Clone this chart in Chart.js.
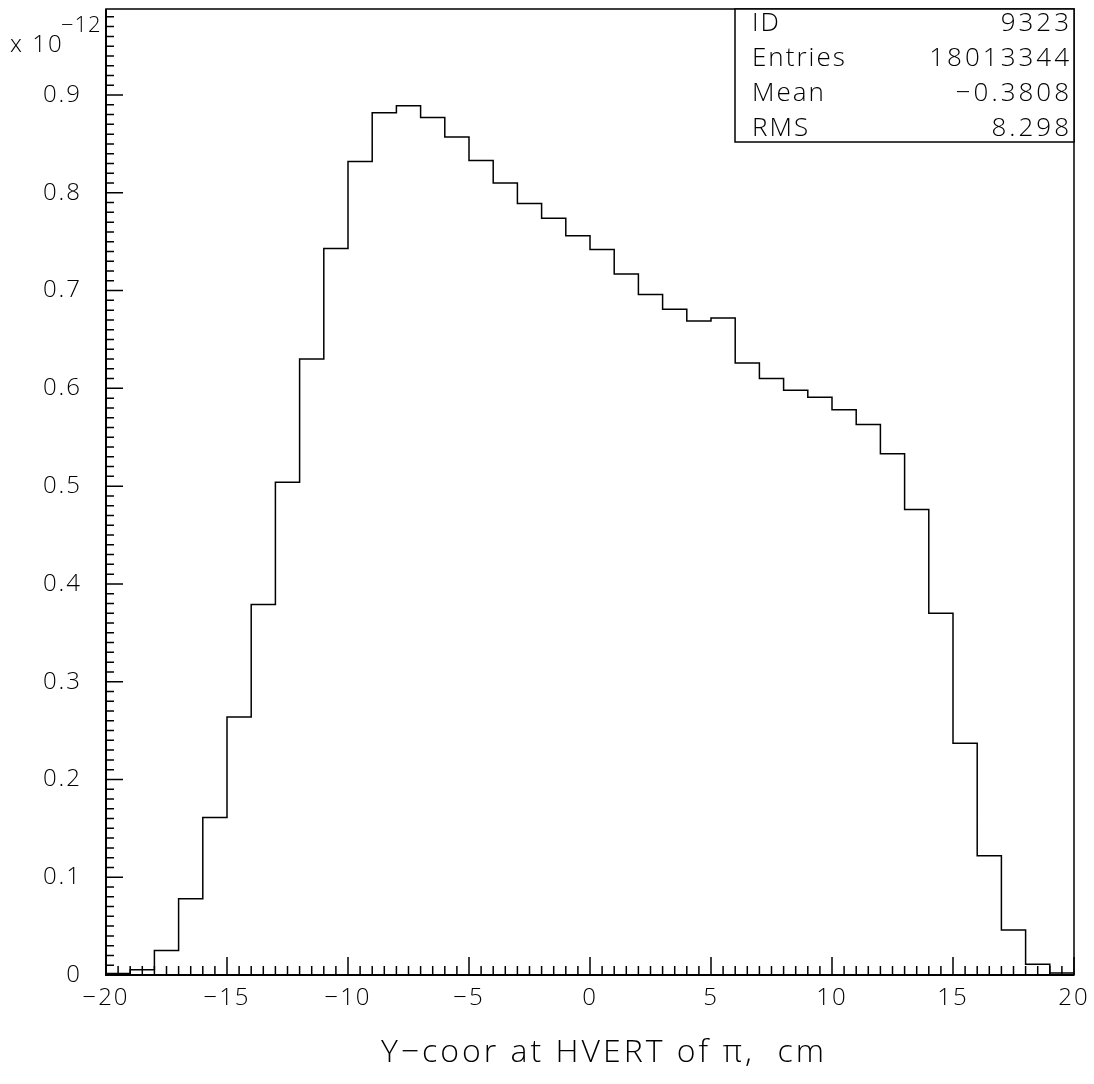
<!DOCTYPE html>
<html>
<head>
<meta charset="utf-8">
<script src="https://cdn.jsdelivr.net/npm/chart.js@4.4.1/dist/chart.umd.min.js"></script>
<style>
  html, body { margin: 0; padding: 0; background: #fff; }
  #wrap { width: 1094px; height: 1084px; }
</style>
</head>
<body>
<div id="wrap"><canvas id="histo"></canvas></div>
<script>
// histogram bins: lower edge of each 1 cm bin
const binLow = [-20, -19, -18, -17, -16, -15, -14, -13, -12, -11,
                -10, -9, -8, -7, -6, -5, -4, -3, -2, -1,
                0, 1, 2, 3, 4, 5, 6, 7, 8, 9,
                10, 11, 12, 13, 14, 15, 16, 17, 18, 19];
const binHigh = 20;

// contents, in units of 1e-12
const counts = [0.0015, 0.0053, 0.025, 0.078, 0.161, 0.264, 0.379, 0.504, 0.630, 0.743,
                0.832, 0.882, 0.889, 0.877, 0.857, 0.833, 0.810, 0.789, 0.774, 0.756,
                0.742, 0.717, 0.696, 0.681, 0.669, 0.672, 0.626, 0.610, 0.598, 0.591,
                0.578, 0.563, 0.533, 0.476, 0.370, 0.237, 0.122, 0.046, 0.011, 0.002];

const xTicks = [-20, -15, -10, -5, 0, 5, 10, 15, 20];
const yTicks = [0, 0.1, 0.2, 0.3, 0.4, 0.5, 0.6, 0.7, 0.8, 0.9];

const statLabels = ["ID", "Entries", "Mean", "RMS"];
const statValues = ["9323", "18013344", "\u22120.3808", "8.298"];

const xTitle = "Y\u2212coor at HVERT of \u03c0,  cm";
const FONT = "'Open Sans', 'DejaVu Sans', sans-serif";

// build step outline points
const points = [{ x: binLow[0], y: 0 }];
binLow.forEach((lo, i) => points.push({ x: lo, y: counts[i] }));
points.push({ x: binHigh, y: counts[counts.length - 1] });
points.push({ x: binHigh, y: 0 });

function minus(v) {
    return String(v).replace('-', '\u2212');
}

// ticks inside the frame, frame, stats box, exponent and title
const paw = {
    id: 'paw',
    beforeDraw(chart) {
        // wider letters like the old vector font
        chart.ctx.letterSpacing = '2px';
    },
    afterDraw(chart) {
        const ctx = chart.ctx;
        const ca = chart.chartArea;
        const xs = chart.scales.x, ys = chart.scales.y;
        ctx.save();
        ctx.strokeStyle = '#000';

        // frame
        ctx.lineWidth = 1.5;
        ctx.strokeRect(ca.left, ca.top, ca.right - ca.left, ca.bottom - ca.top);
        ctx.lineWidth = 2;
        ctx.beginPath();
        ctx.moveTo(ca.left, ca.top);
        ctx.lineTo(ca.left, ca.bottom);
        ctx.lineTo(ca.right, ca.bottom);
        ctx.stroke();

        // x ticks
        ctx.lineWidth = 1.5;
        ctx.beginPath();
        for (let k = 0; k <= 80; k++) {
            const v = -20 + k * 0.5;
            const px = xs.getPixelForValue(v);
            const len = (k % 10 === 0) ? 18 : 9;
            ctx.moveTo(px, ca.bottom);
            ctx.lineTo(px, ca.bottom - len);
        }
        // y ticks
        for (let k = 0; k <= 98; k++) {
            const py = ys.getPixelForValue(k * 0.01);
            const len = (k % 10 === 0) ? 17 : 8;
            ctx.moveTo(ca.left, py);
            ctx.lineTo(ca.left + len, py);
        }
        ctx.stroke();

        // stats box
        const bx = ca.right - 339, by = ca.top, bw = 339, bh = 133;
        ctx.fillStyle = '#fff';
        ctx.fillRect(bx, by, bw, bh);
        ctx.lineWidth = 1.5;
        ctx.strokeRect(bx, by, bw, bh);
        ctx.fillStyle = '#000';
        ctx.font = '300 26px ' + FONT;
        ctx.textBaseline = 'middle';
        const rowH = 34.7;
        statLabels.forEach((lab, i) => {
            const cy = 24 + rowH * i;
            ctx.textAlign = 'left';
            ctx.letterSpacing = '2px';
            ctx.fillText(lab, bx + 17, cy);
            ctx.textAlign = 'right';
            ctx.letterSpacing = '3px';
            ctx.fillText(statValues[i], ca.right - 2, cy);
        });

        // exponent label
        ctx.textAlign = 'left';
        ctx.textBaseline = 'middle';
        ctx.letterSpacing = '2px';
        ctx.font = '300 24px ' + FONT;
        ctx.fillText('x 10', 10, 45);
        ctx.letterSpacing = '1px';
        ctx.font = '300 22px ' + FONT;
        ctx.fillText('\u221212', 61, 26);

        // x axis title
        ctx.font = '300 32px ' + FONT;
        ctx.textAlign = 'center';
        ctx.letterSpacing = '3px';
        ctx.fillText(xTitle, (ca.left + ca.right) / 2 + 14, 1053);
        ctx.restore();
        ctx.letterSpacing = '0px';
    }
};

new Chart(document.getElementById('histo'), {
    type: 'line',
    data: {
        datasets: [{
            data: points,
            stepped: 'before',
            borderColor: '#000',
            borderWidth: 1.5,
            pointRadius: 0,
            fill: false,
            tension: 0
        }]
    },
    options: {
        responsive: true,
        maintainAspectRatio: false,
        animation: false,
        events: [],
        layout: { padding: { top: 9, right: 20, left: 0, bottom: 0 } },
        plugins: { legend: { display: false }, tooltip: { enabled: false } },
        scales: {
            x: {
                type: 'linear',
                min: -20,
                max: 20,
                afterFit: (s) => {
                    s.height = 109;
                    s.paddingLeft = 0; s.paddingRight = 0;
                    s.paddingTop = 0; s.paddingBottom = 0;
                },
                afterBuildTicks: (s) => { s.ticks = xTicks.map(v => ({ value: v })); },
                grid: { display: false, drawTicks: false },
                border: { display: false },
                ticks: {
                    padding: 9,
                    color: '#000',
                    font: { family: FONT, size: 24, weight: 300 },
                    maxRotation: 0,
                    callback: (v) => minus(v)
                }
            },
            y: {
                type: 'linear',
                min: 0,
                max: 0.988,
                afterFit: (s) => {
                    s.width = 106;
                    s.paddingLeft = 0; s.paddingRight = 0;
                    s.paddingTop = 0; s.paddingBottom = 0;
                },
                afterBuildTicks: (s) => { s.ticks = yTicks.map(v => ({ value: v })); },
                grid: { display: false, drawTicks: false },
                border: { display: false },
                ticks: {
                    padding: 24,
                    color: '#000',
                    font: { family: FONT, size: 24, weight: 300 },
                    callback: (v) => v === 0 ? '0' : v.toFixed(1)
                }
            }
        }
    },
    plugins: [paw]
});
</script>
</body>
</html>
